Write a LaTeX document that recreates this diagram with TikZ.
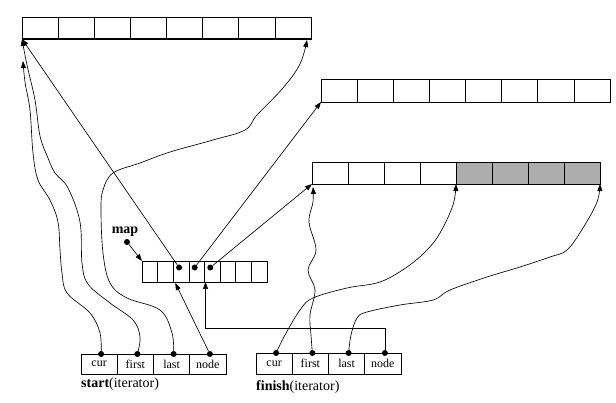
\documentclass[tikz,border=0pt]{standalone}
\usepackage{fontspec}
\setmainfont{Liberation Serif}
\usetikzlibrary{arrows.meta}
\begin{document}
\begin{tikzpicture}[x=1pt,y=-1pt,
  box/.style={draw, line width=0.75pt, inner sep=0pt, outer sep=0pt},
  shaded/.style={fill=black!32},
  dot/.style={circle, fill=black, inner sep=0pt, minimum size=6pt},
  wire/.style={line width=0.65pt, -{Triangle[length=7pt,width=5pt]}},
  celltext/.style={font=\fontsize{12}{14}\selectfont},
  lbl/.style={font=\fontsize{14}{16}\selectfont, inner sep=0pt, anchor=west}]
\useasboundingbox (0,0) rectangle (616,403);

% top buffer
\foreach \i in {1,...,8}
  \node[box, minimum width=36.125pt, minimum height=22pt] (A\i) at ({22+36.125*(\i-0.5)},28) {};
\draw[line width=1.6pt] (A1.south west) -- (A8.south east);

% second buffer
\foreach \i in {1,...,8}
  \node[box, minimum width=36.125pt, minimum height=23pt] (B\i) at ({321+36.125*(\i-0.5)},90.5) {};

% third buffer
\foreach \i in {1,...,4}
  \node[box, minimum width=36pt, minimum height=22pt] (C\i) at ({312+36*(\i-0.5)},173) {};
\foreach \i in {5,...,8}
  \node[box, shaded, minimum width=36pt, minimum height=22pt] (C\i) at ({312+36*(\i-0.5)},173) {};

% map
\foreach \i in {1,...,8}
  \node[box, minimum width=15.625pt, minimum height=21pt] (M\i) at ({142+15.625*(\i-0.5)},271.5) {};
\foreach \i in {3,4,5}
  \node[dot] (md\i) at ([xshift=-2pt,yshift=4pt]M\i.center) {};
\node[font=\bfseries\fontsize{14}{16}\selectfont, inner sep=0pt] (maplbl) at (125,232) {map};
\node[dot] (mapdot) at (127,242) {};
\draw[wire] (mapdot) -- (M1.north west);

% iterators
\foreach \t [count=\i] in {cur,first,last,node}
  \node[box, celltext, minimum width=36.25pt, minimum height=20pt] (S\i) at ({81+36.25*(\i-0.5)},364) {\t};
\foreach \t [count=\i] in {cur,first,last,node}
  \node[box, celltext, minimum width=36.25pt, minimum height=21pt] (F\i) at ({256+36.25*(\i-0.5)},363.5) {\t};
\foreach \i in {1,...,4} {
  \node[dot] (sd\i) at ([xshift=2pt]S\i.north) {};
  \node[dot] (fd\i) at ([xshift=2pt]F\i.north) {};
}
\node[lbl] (startlbl) at (81,384) {\textbf{start}(iterator)};
\node[lbl] (finishlbl) at (256,387) {\textbf{finish}(iterator)};

% targets
\coordinate (tA1) at ([xshift=1pt,yshift=-22pt]A1.south west);
\coordinate (tA8) at ([xshift=-4pt,yshift=-1pt]A8.south east);
\coordinate (tC1) at ([xshift=1pt,yshift=-3pt]C1.south west);
\coordinate (mt3) at ([xshift=2pt,yshift=-1pt]M3.south west);
\coordinate (mt5) at ([xshift=1pt]M5.south west);

% straight connectors from the map
\draw[wire] (md3) -- (A1.south west);
\draw[wire] (md4) -- (B1.south west);
\draw[wire] (md5) -- (C1.south west);
\draw[wire] (sd4) -- (mt3);
\draw[wire] (fd4) -- ++(0,-25) -| (mt5);

% start curves
\draw[wire] plot[smooth, tension=0.6] coordinates {(sd1) (100,333) (90,313) (67,293) (62,273) (60,250) (58,222) (50,200) (38,180) (33,153) (30,110) (25,82) (tA1)};
\draw[wire] plot[smooth, tension=0.6] coordinates {(sd2) (140,337) (133,320) (110,303) (88,284) (82,263) (80,222) (68,188) (55,173) (48,158) (40,136) (35,100) (27,65) (A1.south west)};
\draw[wire] plot[smooth, tension=0.6] coordinates {(sd3) (172,333) (160,310) (127,298) (110,283) (103,253) (101,210) (103,190) (113,173) (140,163) (170,152) (213,140) (245,130) (257,115) (283,88) (300,64) (tA8)};

% finish curves
\draw[wire] plot[smooth, tension=0.6] coordinates {(fd1) (285,335) (300,310) (313,298) (347,288) (380,282) (407,267) (427,250) (440,233) (453,205) (C5.south west)};
\draw[wire] plot[smooth, tension=0.6] coordinates {(fd2) (311,335) (310,315) (315,290) (308,270) (316,250) (309,222) (313,202) (tC1)};
\draw[wire] plot[smooth, tension=0.6] coordinates {(fd3) (351,335) (357,318) (367,312) (400,305) (433,300) (450,290) (487,277) (520,267) (550,257) (567,250) (583,228) (597,202) (C8.south east)};
\end{tikzpicture}
\end{document}
